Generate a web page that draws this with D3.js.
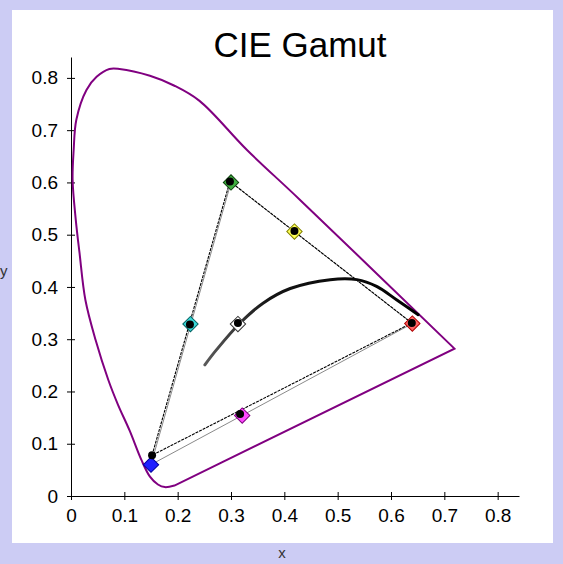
<!DOCTYPE html>
<html>
<head>
<meta charset="utf-8">
<script src="https://cdn.jsdelivr.net/npm/d3@7"></script>
<style>
  body { margin: 0; background: #ccccf4; }
  text { font-family: "Liberation Sans", Arial, sans-serif; }
</style>
</head>
<body>
<div id="chart"></div>
<script>
// spectral locus (blue end -> red end)
var locusX = [0.194, 0.176, 0.163, 0.148, 0.132, 0.110, 0.088, 0.070, 0.046, 0.027, 0.016, 0.009,
              0.003, 0.005, 0.010, 0.029, 0.048, 0.072, 0.091, 0.148, 0.194, 0.241, 0.330, 0.429, 0.719];
var locusY = [0.020, 0.017, 0.022, 0.037, 0.069, 0.125, 0.175, 0.222, 0.299, 0.375, 0.465, 0.528,
              0.605, 0.662, 0.720, 0.777, 0.802, 0.817, 0.817, 0.804, 0.785, 0.756, 0.662, 0.567, 0.282];

// blackbody curve
var planckX = [0.251, 0.273, 0.317, 0.360, 0.411, 0.486, 0.536, 0.573, 0.611, 0.651];
var planckY = [0.251, 0.280, 0.331, 0.369, 0.397, 0.414, 0.414, 0.401, 0.375, 0.347];

// reference primaries / secondaries (diamonds)
var names    = ["red", "green", "blue", "yellow", "cyan", "magenta", "white"];
var diamondX = [0.640, 0.300, 0.150, 0.419, 0.224, 0.321, 0.313];
var diamondY = [0.330, 0.600, 0.060, 0.506, 0.329, 0.154, 0.329];
var diamondFill   = ["#ff6464", "#3fae3f", "#1f1fff", "#ffff55", "#3ad8d8", "#ff48ff", "#ffffff"];
var diamondStroke = ["#b00000", "#0a400a", "#0000a0", "#808000", "#006060", "#800080", "#333333"];

// measured gamut (black dots)
var dotX = [0.639, 0.298, 0.152, 0.419, 0.223, 0.317, 0.313];
var dotY = [0.331, 0.602, 0.078, 0.507, 0.328, 0.157, 0.331];

var tickVals = [0, 0.1, 0.2, 0.3, 0.4, 0.5, 0.6, 0.7, 0.8];

var W = 563, H = 564;
var margin = {top: 57, left: 71},
    width = 448,
    height = 439;

var svg = d3.select("#chart").append("svg")
    .attr("width", W)
    .attr("height", H);

svg.append("rect").attr("width", W).attr("height", H).attr("fill", "#ccccf4");
svg.append("rect").attr("x", 12).attr("y", 10).attr("width", 541).attr("height", 533).attr("fill", "#ffffff");

var x = d3.scaleLinear().domain([0, 0.84]).range([0, width]);
var y = d3.scaleLinear().domain([0, 0.84]).range([height, 0]);

var g = svg.append("g")
    .attr("transform", "translate(" + margin.left + "," + margin.top + ")");

var fmt = function(d) { return String(+d.toFixed(1)); };

//draw x-axis
var gx = g.append("g")
    .attr("transform", "translate(0," + height + ")")
    .call(d3.axisBottom(x).tickValues(tickVals).tickFormat(fmt).tickSizeOuter(0));
gx.selectAll(".tick line").attr("y1", -4).attr("y2", 4);
gx.selectAll(".tick text").attr("y", 13).style("font-size", "19px").attr("fill", "#000");

//draw y-axis
var gy = g.append("g")
    .call(d3.axisLeft(y).tickValues(tickVals).tickFormat(fmt).tickSizeOuter(0));
gy.selectAll(".tick line").attr("x1", -4).attr("x2", 4);
gy.selectAll(".tick text").attr("x", -13).style("font-size", "19px").attr("fill", "#000");
g.selectAll(".domain").attr("stroke", "#000");

var line = d3.line()
    .x(function(d) { return x(d[0]); })
    .y(function(d) { return y(d[1]); });

// spectral locus + line of purples
var locus = d3.range(locusX.length).map(function(i) { return [locusX[i], locusY[i]]; });
g.append("path")
    .attr("d", line.curve(d3.curveCatmullRom.alpha(0.5))(locus) + "Z")
    .attr("fill", "none")
    .attr("stroke", "#800080")
    .attr("stroke-width", 2);
line.curve(d3.curveLinear);

// reference triangle (thin gray)
var tri = [0, 1, 2].map(function(i) { return [diamondX[i], diamondY[i]]; });
g.append("path")
    .attr("d", line(tri) + "Z")
    .attr("fill", "none")
    .attr("stroke", "#8a8a8a")
    .attr("stroke-width", 1);

// measured triangle (dashed black)
var triDots = [0, 1, 2].map(function(i) { return [dotX[i], dotY[i]]; });
g.append("path")
    .attr("d", line(triDots) + "Z")
    .attr("fill", "none")
    .attr("stroke", "#000")
    .attr("stroke-width", 1.1)
    .attr("stroke-dasharray", "3,1");

// blackbody curve
var grad = svg.append("defs").append("linearGradient")
    .attr("id", "planckGrad")
    .attr("gradientUnits", "userSpaceOnUse")
    .attr("x1", x(planckX[0])).attr("x2", x(planckX[planckX.length - 1]))
    .attr("y1", 0).attr("y2", 0);
grad.append("stop").attr("offset", "0%").attr("stop-color", "#5a5a5a");
grad.append("stop").attr("offset", "30%").attr("stop-color", "#151515");
grad.append("stop").attr("offset", "100%").attr("stop-color", "#000");

var planck = d3.range(planckX.length).map(function(i) { return [planckX[i], planckY[i]]; });
g.append("path")
    .attr("d", line.curve(d3.curveCatmullRom.alpha(0.5))(planck))
    .attr("fill", "none")
    .attr("stroke", "url(#planckGrad)")
    .attr("stroke-width", 3)
    .attr("stroke-linecap", "round");

// diamonds
var diamond = d3.symbol().type(d3.symbolSquare).size(118);
g.selectAll(".diamond")
    .data(names)
  .enter().append("path")
    .attr("class", "diamond")
    .attr("d", diamond)
    .attr("transform", function(d, i) { return "translate(" + x(diamondX[i]) + "," + y(diamondY[i]) + ") rotate(45)"; })
    .attr("fill", function(d, i) { return diamondFill[i]; })
    .attr("stroke", function(d, i) { return diamondStroke[i]; })
    .attr("stroke-width", 1);

// dots
g.selectAll(".dot")
    .data(names)
  .enter().append("circle")
    .attr("class", "dot")
    .attr("cx", function(d, i) { return x(dotX[i]); })
    .attr("cy", function(d, i) { return y(dotY[i]); })
    .attr("r", 4)
    .attr("fill", "#000");

// titles
svg.append("text")
    .attr("x", 300).attr("y", 57)
    .attr("text-anchor", "middle")
    .style("font-size", "35px")
    .attr("fill", "#000")
    .text("CIE Gamut");

svg.append("text")
    .attr("x", 282).attr("y", 558)
    .attr("text-anchor", "middle")
    .style("font-size", "15px")
    .attr("fill", "#333")
    .text("x");

svg.append("text")
    .attr("x", 0).attr("y", 276)
    .style("font-size", "15px")
    .attr("fill", "#333")
    .text("y");
</script>
</body>
</html>
